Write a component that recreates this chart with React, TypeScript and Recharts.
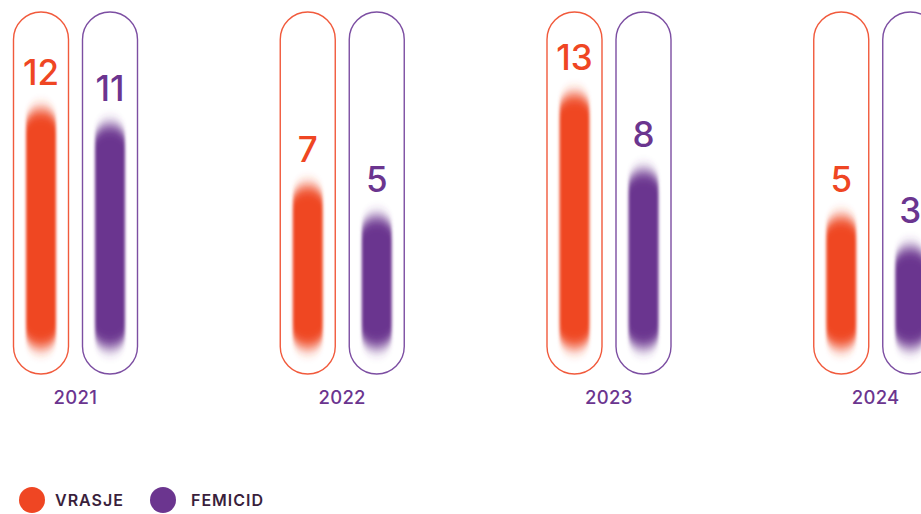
import { BarChart, Bar, XAxis, YAxis, Legend, LabelList } from 'recharts'

const years = ['2021', '2022', '2023', '2024']
const vrasje = [12, 7, 13, 5]
const femicid = [11, 5, 8, 3]
const seriesNames = ['VRASJE', 'FEMICID']

const data = years.map((year, i) => ({
  year,
  vrasje: vrasje[i],
  femicid: femicid[i],
}))

// bars start a bit below zero so short bars keep some body (as in the infographic)
const BASE = -3.6

const colors = {
  vrasje: '#ef4623',
  femicid: '#6b358f',
  vrasjeLine: '#f15a3c',
  femicidLine: '#7c4ea2',
  legendText: '#3a1f3c',
}

const font = 'Inter, "Noto Sans", sans-serif'

const capsule = (stroke: string) => (props: any) => {
  const { x, y, width, height } = props
  const w = width + 25
  return (
    <rect
      x={x - 12.5}
      y={y}
      width={w}
      height={height}
      rx={w / 2}
      ry={w / 2}
      fill="none"
      stroke={stroke}
      strokeWidth={1.4}
    />
  )
}

const softBar = (fill: string) => (props: any) => {
  const { x, y, width, height } = props
  return (
    <rect
      x={x}
      y={y}
      width={width}
      height={height}
      rx={width / 2}
      ry={width / 2}
      fill={fill}
      filter="url(#softEdge)"
    />
  )
}

const YearTick = ({ x, y, payload }: any) => (
  <text
    x={x}
    y={y + 30}
    textAnchor="middle"
    fill={colors.femicid}
    fontSize={18.5}
    fontWeight={500}
    letterSpacing={0.3}
    fontFamily={font}
  >
    {payload.value}
  </text>
)

const LegendContent = () => {
  const items = [
    { name: seriesNames[0], color: colors.vrasje, circle: 19, text: 55 },
    { name: seriesNames[1], color: colors.femicid, circle: 150, text: 191 },
  ]
  return (
    <div style={{ position: 'relative', height: 100, fontFamily: font }}>
      {items.map((it) => (
        <div key={it.name}>
          <div
            style={{
              position: 'absolute',
              left: it.circle,
              top: 73,
              width: 26,
              height: 26,
              borderRadius: '50%',
              background: it.color,
            }}
          />
          <div
            style={{
              position: 'absolute',
              left: it.text,
              top: 73,
              lineHeight: '26px',
              fontSize: 16,
              fontWeight: 600,
              letterSpacing: 1,
              color: colors.legendText,
            }}
          >
            {it.name}
          </div>
        </div>
      ))}
    </div>
  )
}

export default function App() {
  return (
    <div
      style={{
        position: 'absolute',
        left: 0,
        top: 0,
        width: 921,
        height: 514,
        overflow: 'hidden',
        background: '#ffffff',
      }}
    >
      <div style={{ position: 'absolute', left: -58, top: 0 }}>
        <BarChart
          width={1067}
          height={514}
          data={data}
          margin={{ top: 12, right: 0, left: 0, bottom: 0 }}
          barSize={30}
          barGap={39}
        >
          <defs>
            <filter id="softEdge" x="-40%" y="-30%" width="180%" height="160%">
              <feGaussianBlur stdDeviation="1.8 7" />
            </filter>
          </defs>
          <XAxis
            dataKey="year"
            axisLine={false}
            tickLine={false}
            tickSize={0}
            tickMargin={0}
            height={40}
            tick={<YearTick />}
            interval={0}
          />
          <YAxis hide domain={[-5.3, 18.36]} allowDataOverflow />
          <Legend
            verticalAlign="bottom"
            content={<LegendContent />}
            wrapperStyle={{ left: 58, bottom: 0, width: 400, height: 100 }}
          />
          <Bar
            dataKey={(d: any) => [BASE, d.vrasje]}
            name={seriesNames[0]}
            fill={colors.vrasje}
            background={capsule(colors.vrasjeLine)}
            shape={softBar(colors.vrasje)}
            isAnimationActive={false}
          >
            <LabelList
              dataKey="vrasje"
              position="top"
              offset={24}
              fill={colors.vrasje}
              fontSize={35}
              fontWeight={500}
              fontFamily={font}
            />
          </Bar>
          <Bar
            dataKey={(d: any) => [BASE, d.femicid]}
            name={seriesNames[1]}
            fill={colors.femicid}
            background={capsule(colors.femicidLine)}
            shape={softBar(colors.femicid)}
            isAnimationActive={false}
          >
            <LabelList
              dataKey="femicid"
              position="top"
              offset={24}
              fill={colors.femicid}
              fontSize={35}
              fontWeight={500}
              fontFamily={font}
            />
          </Bar>
        </BarChart>
      </div>
    </div>
  )
}
